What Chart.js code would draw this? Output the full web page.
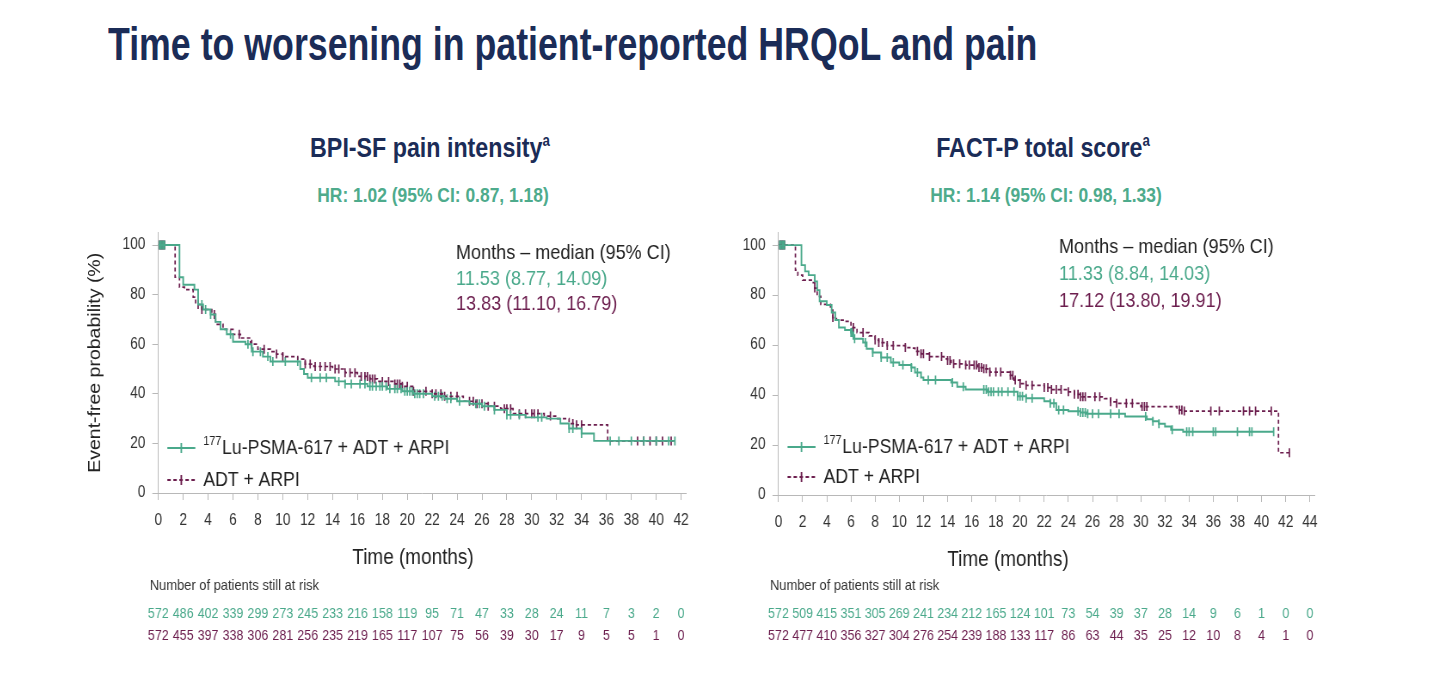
<!DOCTYPE html>
<html>
<head>
<meta charset="utf-8">
<script src="https://cdn.jsdelivr.net/npm/chart.js@4.4.1/dist/chart.umd.min.js"></script>
<style>
  body { margin: 0; background: #fff; font-family: "Liberation Sans", Arial, sans-serif; }
  #page { position: relative; width: 1444px; height: 700px; overflow: hidden; background: #fff; }
  .txt { position: absolute; white-space: nowrap; line-height: 1; }
  #title { left: 108px; top: 20px; font-size: 47px; font-weight: bold; color: #1b2c57;
           transform: scaleX(0.76); transform-origin: 0 0; }
  .head { font-size: 28px; font-weight: bold; color: #1b2c57; top: 134px;
          transform: translateX(-50%) scaleX(0.83); }
  .head span { font-size: 16px; position: relative; top: -11px; }
  .hr { font-size: 21px; font-weight: bold; color: #4eab8c; top: 184px;
        transform: translateX(-50%) scaleX(0.83); }
  .wrap { position: absolute; transform: scaleX(0.86); transform-origin: 0 0; }
</style>
</head>
<body>
<div id="page">
  <div id="title" class="txt">Time to worsening in patient-reported HRQoL and pain</div>
  <div class="txt head" style="left:430px">BPI-SF pain intensity<span>a</span></div>
  <div class="txt head" style="left:1043px">FACT-P total score<span>a</span></div>
  <div class="txt hr" style="left:433px">HR: 1.02 (95% CI: 0.87, 1.18)</div>
  <div class="txt hr" style="left:1046px">HR: 1.14 (95% CI: 0.98, 1.33)</div>
  <div class="wrap" id="wrapBpi"><canvas id="bpiChart"></canvas></div>
  <div class="wrap" id="wrapFact"><canvas id="factChart"></canvas></div>
</div>
<script>
// axis ticks
const yTicks = [0, 20, 40, 60, 80, 100];
const bpiMonths = [0, 2, 4, 6, 8, 10, 12, 14, 16, 18, 20, 22, 24, 26, 28, 30, 32, 34, 36, 38, 40, 42];
const factMonths = [0, 2, 4, 6, 8, 10, 12, 14, 16, 18, 20, 22, 24, 26, 28, 30, 32, 34, 36, 38, 40, 42, 44];

// BPI-SF pain intensity: KM steps [month, event-free %]
const bpiLu = [[0,100],[1.7,87],[2.0,84],[2.9,82],[3.2,76],[3.6,74],[4.2,72],[4.6,69],[5.0,66],[5.5,64],
  [6.0,61],[7.0,60],[7.5,57],[8.4,55],[9.0,53],[11.4,50],[11.7,48],[12.0,46.5],[14.2,45],[15.0,44],
  [16.8,43],[18.4,42],[19.6,41],[20.5,40],[22.0,39],[23.0,38],[24.0,37],[25.0,36],[26.0,35],[27.0,33.5],
  [28.0,31.5],[29.5,30.5],[31.2,30],[32.3,28],[33.0,26],[34.0,24],[35.0,21],[41.5,21]];
const bpiAdt = [[0,100],[1.35,87],[1.7,83],[2.1,82],[2.8,79],[3.0,76],[3.5,74],[4.3,72],[4.6,68],[5.2,66],
  [6.0,64],[6.6,62.5],[7.4,60],[8.0,58],[9.0,57],[9.5,56],[10.0,55],[11.2,54],[11.8,52],[12.5,51],
  [14.0,50],[15.0,48.5],[16.0,47],[17.0,46],[17.6,45],[19.0,44],[19.6,43],[20.5,41],[22.0,40],[23.0,39],
  [24.5,37],[25.5,36],[26.5,35],[27.5,34],[28.5,32],[31.0,31],[32.0,30],[33.0,28],[33.5,27.5],[36.1,21],[41.5,21]];
const bpiLuCensor = [0.1,0.2,0.3,0.4,0.5,3.5,3.8,4.2,5.8,7.2,7.6,8.2,8.8,9.2,10.2,11.2,12.3,13,13.5,14.5,15,15.5,
  16.2,16.6,17,17.2,17.5,17.8,18,18.3,18.6,19,19.2,19.5,19.8,20,20.2,20.4,20.6,20.8,21,21.3,22.2,22.5,22.8,
  23.2,23.5,24.2,25.5,25.8,26.2,27,28,28.3,29,30.5,30.8,33,33.3,34,36.3,37,38,39,40,41,41.5];
const bpiAdtCensor = [0.1,0.2,0.3,0.4,0.5,3.2,3.5,4.5,6.5,7.5,8.5,9.5,10,11.8,12.2,12.6,13,13.4,13.8,14.2,14.5,15,
  15.4,15.8,16.3,16.6,16.8,17,17.2,17.4,18,18.5,19,19.2,19.4,19.6,20,20.5,21.5,22,22.3,22.7,23,23.5,24,25,
  25.3,25.6,26,26.5,27,27.8,28,28.3,29,29.5,30,30.2,30.5,31.5,33.3,33.6,34,38.5,39,39.5,40,40.5,41.2];
const bpiRiskLu = [572,486,402,339,299,273,245,233,216,158,119,95,71,47,33,28,24,11,7,3,2,0];
const bpiRiskAdt = [572,455,397,338,306,281,256,235,219,165,117,107,75,56,39,30,17,9,5,5,1,0];
const bpiMedians = ['11.53 (8.77, 14.09)', '13.83 (11.10, 16.79)'];

// FACT-P total score
const factLu = [[0,100],[1.9,92],[2.2,89.5],[2.5,88],[3.0,85.5],[3.2,82],[3.4,77.5],[4.0,76],[4.4,73],[4.7,70],
  [5.0,67],[5.5,66],[6.0,65],[6.2,62.5],[7.0,61],[7.3,58.5],[7.8,57],[8.5,55],[9.3,53],[10.0,52],[11.0,51],
  [11.3,49],[11.8,47],[12.0,46],[14.3,45],[14.8,43.3],[15.5,42.2],[17.3,41.3],[19.8,39.5],[20.5,38.7],
  [22.0,37.5],[22.5,36.7],[23.0,34],[24.0,33.5],[25.0,33],[25.5,32.5],[28.7,31.4],[30.5,30.3],[31.0,29.5],
  [31.5,28.5],[32.0,27.4],[32.5,26.1],[33.5,25.3],[41.0,25.3]];
const factAdt = [[0,100],[1.4,90],[1.6,88],[2.0,86],[2.8,85],[3.0,82.8],[3.2,79.5],[3.5,76.3],[4.3,74],[4.5,71],
  [4.8,70],[5.5,69.5],[6.0,67],[6.5,65],[7.5,63.7],[8.0,62],[8.3,61],[9.0,59.8],[10.5,59],[11.0,58.8],
  [11.3,57.5],[11.8,56.5],[12.5,55.4],[13.7,54.5],[14.0,53.8],[14.3,52.5],[15.5,52],[16.5,51],[17.0,50.5],
  [17.5,49.2],[19.2,47.9],[19.5,46],[20.0,44.6],[20.5,43.9],[22.0,43],[22.5,42.2],[24.0,41.3],[24.5,40.3],
  [25.0,39.3],[27.0,38.6],[27.5,37.3],[28.0,36.7],[30.0,35.4],[33.0,34],[33.5,33.6],[41.4,16.9],[42.4,16.9]];
const factLuCensor = [0.1,0.2,0.3,0.4,0.5,6,6.1,6.3,7.2,7.8,8.5,9,9.5,10.3,11,11.5,12.4,13,14.4,15.3,17,17.2,
  17.4,17.6,17.8,18.2,18.5,19,19.5,19.8,20,20.2,20.5,21,22.5,22.8,23.2,23.6,24.8,25,25.2,25.4,25.6,26,26.5,
  27.5,28.2,30.4,31,31.5,32.6,33.8,34,34.3,36,36.2,38,39,39.2,41];
const factAdtCensor = [0.1,0.2,0.3,0.4,0.5,3,4.5,6.2,7,8,8.3,8.6,9,9.5,10.5,11.5,11.8,12,12.5,13.5,14,14.2,14.5,
  15,15.5,15.8,16.2,16.4,16.6,16.8,17,17.2,17.5,18,18.4,19.2,19.4,19.6,20,20.5,21,22,22.3,22.6,23,23.4,24,
  24.5,24.8,25,25.2,25.4,26.2,26.6,27.5,28,28.8,29.3,30.1,30.3,30.5,33.2,33.4,33.6,35.8,36.5,38.5,39,39.5,
  40.8,42.3];
const factRiskLu = [572,509,415,351,305,269,241,234,212,165,124,101,73,54,39,37,28,14,9,6,1,0,0];
const factRiskAdt = [572,477,410,356,327,304,276,254,239,188,133,117,86,63,44,35,25,12,10,8,4,1,0];
const factMedians = ['11.33 (8.84, 14.03)', '17.12 (13.80, 19.91)'];

const armLabels = ['177Lu-PSMA-617 + ADT + ARPI', 'ADT + ARPI'];
const legendParts = [['177', 'Lu-PSMA-617 + ADT + ARPI'], ['', 'ADT + ARPI']];
const medianHeader = 'Months \u2013 median (95% CI)';

const S = 0.86;            // horizontal squeeze of the slide
const GREEN = '#4aa98b';
const PURPLE = '#6c1e4e';
const FONT = '"Liberation Sans", Arial, sans-serif';

// step function lookup, used to sit censor ticks on the curve
function survAt(curve, t) {
  let v = curve[0][1];
  for (const [x, y] of curve) { if (x <= t) v = y; else break; }
  return v;
}

function extras(p) {
  return {
    id: 'kmExtras',
    afterDraw(chart) {
      const ctx = chart.ctx, xs = chart.scales.x, area = chart.chartArea;
      const top = p.wrapTop;
      const off = d => area.left + d / S;
      ctx.save();

      // median box
      ctx.textAlign = 'left';
      ctx.textBaseline = 'middle';
      ctx.font = '21px ' + FONT;
      [[medianHeader, '#222'], [p.medians[0], GREEN], [p.medians[1], PURPLE]].forEach(([t, c], i) => {
        ctx.fillStyle = c;
        ctx.fillText(t, off(p.medianX - p.areaLeft), p.medianY[i] - top);
      });

      // legend
      [0, 1].forEach(i => {
        const ds = chart.data.datasets[i];
        const y = p.legendY[i] - top;
        const x1 = off(9), x2 = off(37);
        ctx.strokeStyle = ds.borderColor;
        ctx.lineWidth = 1.9;
        ctx.setLineDash(ds.borderDash || []);
        ctx.beginPath(); ctx.moveTo(x1, y); ctx.lineTo(x2, y); ctx.stroke();
        ctx.setLineDash([]);
        ctx.beginPath(); ctx.moveTo((x1 + x2) / 2, y - 5); ctx.lineTo((x1 + x2) / 2, y + 5); ctx.stroke();
        let tx = off(45);
        ctx.fillStyle = '#222';
        if (legendParts[i][0]) {
          ctx.font = '12.5px ' + FONT;
          ctx.fillText(legendParts[i][0], tx, y - 6);
          tx += ctx.measureText(legendParts[i][0]).width + 1;
        }
        ctx.font = '20.5px ' + FONT;
        ctx.fillText(legendParts[i][1], tx, y);
      });

      // x axis title
      ctx.textAlign = 'center';
      ctx.font = '22px ' + FONT;
      ctx.fillStyle = '#222';
      ctx.fillText('Time (months)', xs.getPixelForValue(p.xTitleMonth), p.xTitleY - top);

      // risk table
      ctx.textAlign = 'left';
      ctx.font = '15px ' + FONT;
      ctx.fillStyle = '#333';
      ctx.fillText('Number of patients still at risk', off(-8.5), 586 - top);
      ctx.textAlign = 'center';
      ctx.font = '14.5px ' + FONT;
      [[p.riskLu, GREEN, 614], [p.riskAdt, PURPLE, 636]].forEach(([row, c, y]) => {
        ctx.fillStyle = c;
        row.forEach((n, i) => ctx.fillText(String(n), xs.getPixelForValue(p.months[i]), y - top));
      });
      ctx.restore();
    }
  };
}

function buildPanel(p) {
  const areaRight = p.areaLeft + p.pxPerMonth * p.xMax;
  const yTop = p.yZero - (p.yZero - p.yHundred) * 1.05;
  const W = (areaRight + 16 - p.wrapLeft) / S;
  const padLeft = 14;
  const yAxisW = (p.areaLeft - p.wrapLeft) / S - padLeft;
  const padRight = W - (areaRight - p.wrapLeft) / S;
  const padTop = yTop - p.wrapTop;
  const xAxisH = p.height - (p.yZero - p.wrapTop);

  const wrap = document.getElementById(p.wrapId);
  wrap.style.left = p.wrapLeft + 'px';
  wrap.style.top = p.wrapTop + 'px';
  const canvas = document.getElementById(p.canvasId);
  canvas.width = W;
  canvas.height = p.height;

  const toXY = c => c.map(([x, y]) => ({ x, y }));
  const censor = (curve, times) => times.map(t => ({ x: t, y: survAt(curve, t) }));

  new Chart(canvas, {
    type: 'line',
    data: {
      datasets: [
        { label: armLabels[0], data: toXY(p.lu), borderColor: GREEN, borderWidth: 1.9, stepped: true, pointRadius: 0, fill: false },
        { label: armLabels[1], data: toXY(p.adt), borderColor: PURPLE, borderWidth: 1.7, borderDash: [4, 3], stepped: true, pointRadius: 0, fill: false },
        { label: 'censored', data: censor(p.lu, p.luCensor), showLine: false, pointStyle: 'line', pointRotation: 90,
          pointRadius: 4.5, pointBorderWidth: 1.7, pointBorderColor: GREEN, borderColor: GREEN },
        { label: 'censored', data: censor(p.adt, p.adtCensor), showLine: false, pointStyle: 'line', pointRotation: 90,
          pointRadius: 4.5, pointBorderWidth: 1.7, pointBorderColor: PURPLE, borderColor: PURPLE }
      ]
    },
    options: {
      responsive: false,
      maintainAspectRatio: false,
      animation: false,
      events: [],
      layout: { padding: { left: padLeft, right: padRight, top: padTop, bottom: 0 } },
      plugins: { legend: { display: false }, tooltip: { enabled: false } },
      scales: {
        x: {
          type: 'linear', min: 0, max: p.xMax,
          afterBuildTicks: s => { s.ticks = p.months.map(v => ({ value: v })); },
          afterFit: s => { s.height = xAxisH; },
          border: { color: '#b8b8b8', width: 1 },
          grid: { drawOnChartArea: false, tickLength: 7, color: '#b8b8b8' },
          ticks: { font: { size: 16, family: FONT }, color: '#333', padding: 11, maxRotation: 0, autoSkip: false }
        },
        y: {
          min: 0, max: 105,
          afterBuildTicks: s => { s.ticks = yTicks.map(v => ({ value: v })); },
          afterFit: s => { s.width = yAxisW; },
          border: { color: '#b8b8b8', width: 1 },
          grid: { drawOnChartArea: false, tickLength: 7, color: '#b8b8b8' },
          ticks: { font: { size: 16, family: FONT }, color: '#333', padding: 8 },
          title: { display: p.yTitle, text: 'Event-free probability (%)', color: '#222',
                   font: { size: 19.5, family: FONT } }
        }
      }
    },
    plugins: [extras(p)]
  });
}

buildPanel({
  wrapId: 'wrapBpi', canvasId: 'bpiChart', wrapLeft: 70, wrapTop: 215, height: 440,
  areaLeft: 158.3, pxPerMonth: 12.45, xMax: 42.4, yZero: 493, yHundred: 241.7, yTitle: true,
  months: bpiMonths, lu: bpiLu, adt: bpiAdt, luCensor: bpiLuCensor, adtCensor: bpiAdtCensor,
  riskLu: bpiRiskLu, riskAdt: bpiRiskAdt, medians: bpiMedians,
  medianX: 456, medianY: [253, 279, 304], xTitleMonth: 20.46, xTitleY: 558, legendY: [448, 480]
});
buildPanel({
  wrapId: 'wrapFact', canvasId: 'factChart', wrapLeft: 690, wrapTop: 215, height: 440,
  areaLeft: 778.5, pxPerMonth: 12.09, xMax: 44.4, yZero: 495, yHundred: 243, yTitle: false,
  months: factMonths, lu: factLu, adt: factAdt, luCensor: factLuCensor, adtCensor: factAdtCensor,
  riskLu: factRiskLu, riskAdt: factRiskAdt, medians: factMedians,
  medianX: 1059, medianY: [247, 274, 301], xTitleMonth: 19.0, xTitleY: 560, legendY: [447, 477]
});
</script>
</body>
</html>
